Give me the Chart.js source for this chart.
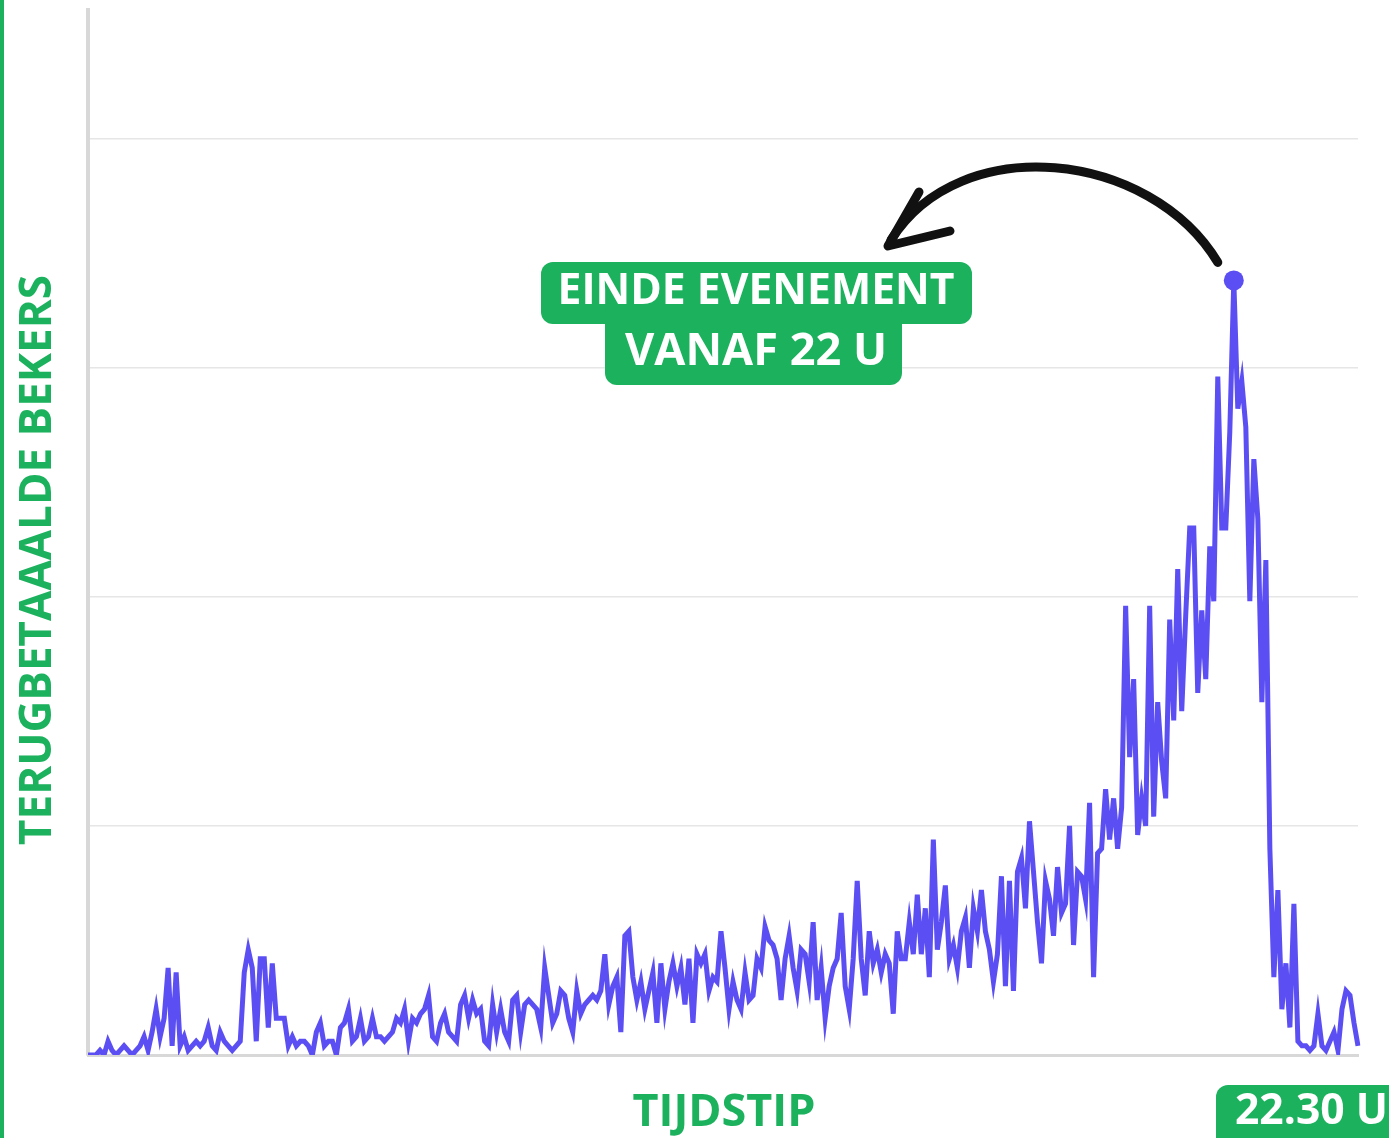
<!DOCTYPE html>
<html>
<head>
<meta charset="utf-8">
<script src="https://cdn.jsdelivr.net/npm/chart.js@4/dist/chart.umd.min.js"></script>
<style>
    body { margin: 0; background: #ffffff; }
    #wrap { width: 1389px; height: 1138px; position: relative; }
</style>
</head>
<body>
<div id="wrap"><canvas id="bekersChart"></canvas></div>
<script>
// Teruggebrachte bekers per minuut (laatste punt = 22.30 u)
const bekers = [
    0, 0, 0, 1, 0, 3, 1, 0, 1, 2,
    1, 0, 1, 2, 4, 1, 5, 10, 4, 8,
    19, 2, 18, 2, 4, 1, 2, 3, 2, 3,
    6, 2, 1, 5, 3, 2, 1, 2, 3, 18,
    23, 19, 3, 21, 21, 6, 20, 8, 8, 8,
    2, 4, 2, 3, 3, 2, 0, 5, 7, 2,
    3, 3, 0, 6, 7, 10, 3, 4, 8, 3,
    4, 8, 4, 4, 3, 4, 5, 8, 7, 10,
    3, 8, 7, 9, 10, 13, 4, 3, 7, 9,
    5, 4, 3, 11, 13, 8, 12, 9, 10, 3,
    2, 11, 5, 10, 5, 3, 12, 13, 5, 11,
    12, 11, 10, 6, 19, 13, 7, 9, 14, 13,
    8, 5, 14, 9, 11, 12, 13, 12, 14, 22,
    11, 15, 17, 5, 26, 27, 17, 12, 16, 10,
    14, 18, 7, 20, 10, 16, 20, 15, 19, 11,
    21, 7, 22, 20, 22, 14, 17, 16, 27, 19,
    10, 16, 12, 10, 18, 12, 13, 21, 19, 28,
    25, 24, 21, 12, 21, 26, 19, 14, 23, 22,
    16, 29, 12, 19, 8, 15, 19, 21, 31, 15,
    10, 21, 38, 21, 13, 27, 20, 23, 18, 22,
    20, 9, 27, 21, 21, 29, 22, 35, 22, 32,
    17, 47, 23, 29, 37, 21, 24, 19, 27, 30,
    19, 32, 27, 36, 27, 23, 16, 22, 39, 15,
    38, 14, 40, 43, 32, 51, 40, 29, 20, 38,
    34, 26, 41, 31, 33, 50, 24, 40, 39, 34,
    55, 17, 44, 45, 58, 47, 56, 45, 54, 98,
    65, 82, 48, 56, 50, 98, 52, 77, 64, 56,
    95, 73, 106, 75, 96, 115, 115, 79, 97, 82,
    111, 99, 148, 115, 115, 136, 169, 141, 147, 137,
    99, 130, 117, 77, 108, 45, 17, 36, 10, 20,
    6, 33, 3, 2, 2, 1, 2, 9, 2, 1,
    3, 5, 1, 10, 14, 13, 7, 2
]
const Y_MAX = 228
const Y_STEP = 50
const EINDE_TEKST = ["EINDE EVENEMENT", "VANAF 22 U"]
const EIND_TIJD = "22.30 U"
const X_TITEL = "TIJDSTIP"
const Y_TITEL = "TERUGBETAAALDE BEKERS"

const GROEN = '#1bb15d'
const PAARS = '#5b4ff3'

// minuten-labels, teruggeteld vanaf 22.30
let tijdstippen = []
for (let i = 0; i < bekers.length; i++) {
    let min = 22 * 60 + 30 - (bekers.length - 1 - i)
    tijdstippen.push(Math.floor(min / 60) + '.' + String(min % 60).padStart(2, '0'))
}
const piekIndex = bekers.indexOf(Math.max(...bekers))

// Set the font size so the text fills a given width
function fitFont(ctx, text, width) {
    ctx.font = 'bold 100px "Open Sans"'
    let size = 100 * width / ctx.measureText(text).width
    ctx.font = `bold ${size}px "Open Sans"`
}

function roundBox(ctx, x, y, w, h, r) {
    ctx.beginPath()
    ctx.roundRect(x, y, w, h, r)
    ctx.fill()
}

const annotaties = {
    id: 'annotaties',
    afterDraw(chart) {
        const ctx = chart.ctx
        ctx.save()

        // green border on the left
        ctx.fillStyle = GROEN
        ctx.fillRect(0, 0, 4, chart.height)

        // y title
        ctx.save()
        ctx.translate(38, 560)
        ctx.rotate(-Math.PI / 2)
        fitFont(ctx, Y_TITEL, 570)
        ctx.textAlign = 'center'
        ctx.textBaseline = 'middle'
        ctx.fillText(Y_TITEL, 0, 0)
        ctx.restore()

        // x title
        ctx.fillStyle = GROEN
        ctx.textAlign = 'center'
        ctx.textBaseline = 'middle'
        fitFont(ctx, X_TITEL, 183)
        ctx.fillText(X_TITEL, 724, 1113)

        // end time box
        roundBox(ctx, 1216, 1085, 200, 80, 12)
        ctx.fillStyle = '#ffffff'
        ctx.textAlign = 'left'
        fitFont(ctx, EIND_TIJD, 153)
        ctx.fillText(EIND_TIJD, 1235, 1112)

        // label box
        ctx.fillStyle = GROEN
        roundBox(ctx, 541, 262, 431, 62, 12)
        roundBox(ctx, 605, 300, 297, 85, 12)
        ctx.fillStyle = '#ffffff'
        ctx.textAlign = 'center'
        fitFont(ctx, EINDE_TEKST[0], 397)
        ctx.fillText(EINDE_TEKST[0], 756, 292)
        fitFont(ctx, EINDE_TEKST[1], 262)
        ctx.fillText(EINDE_TEKST[1], 756, 352)

        // arrow from the peak to the label
        const px = chart.scales.x.getPixelForValue(piekIndex)
        const py = chart.scales.y.getPixelForValue(bekers[piekIndex])
        ctx.strokeStyle = '#111111'
        ctx.lineWidth = 9
        ctx.lineCap = 'round'
        ctx.lineJoin = 'round'
        ctx.beginPath()
        ctx.moveTo(px - 16, py - 18)
        ctx.bezierCurveTo(1150, 150, 960, 130, 891, 240)
        ctx.stroke()
        ctx.beginPath()
        ctx.moveTo(919, 192)
        ctx.lineTo(888, 246)
        ctx.lineTo(950, 231)
        ctx.stroke()

        ctx.restore()
    }
}

const chart = new Chart(document.getElementById('bekersChart'), {
    type: 'line',
    data: {
        labels: tijdstippen,
        datasets: [{
            data: bekers,
            borderColor: PAARS,
            backgroundColor: PAARS,
            borderWidth: 5,
            tension: 0,
            pointRadius: (c) => c.dataIndex === piekIndex ? 10 : 0,
            pointHoverRadius: 0,
            pointBorderWidth: 0
        }]
    },
    options: {
        responsive: true,
        maintainAspectRatio: false,
        animation: false,
        layout: { padding: { left: 88, right: 31, top: 10, bottom: 83 } },
        plugins: { legend: { display: false }, tooltip: { enabled: false } },
        scales: {
            x: {
                grid: { display: false, drawTicks: false },
                ticks: { display: false },
                border: { display: true, color: '#d8d8d8', width: 3 }
            },
            y: {
                min: 0,
                max: Y_MAX,
                ticks: { display: false, stepSize: Y_STEP },
                grid: {
                    drawTicks: false,
                    lineWidth: 1.5,
                    color: (c) => (c.tick.value > 0 && c.tick.value % Y_STEP === 0) ? '#e6e6e6' : 'rgba(0,0,0,0)'
                },
                border: { display: true, color: '#d8d8d8', width: 4 }
            }
        }
    },
    plugins: [annotaties]
})
</script>
</body>
</html>
